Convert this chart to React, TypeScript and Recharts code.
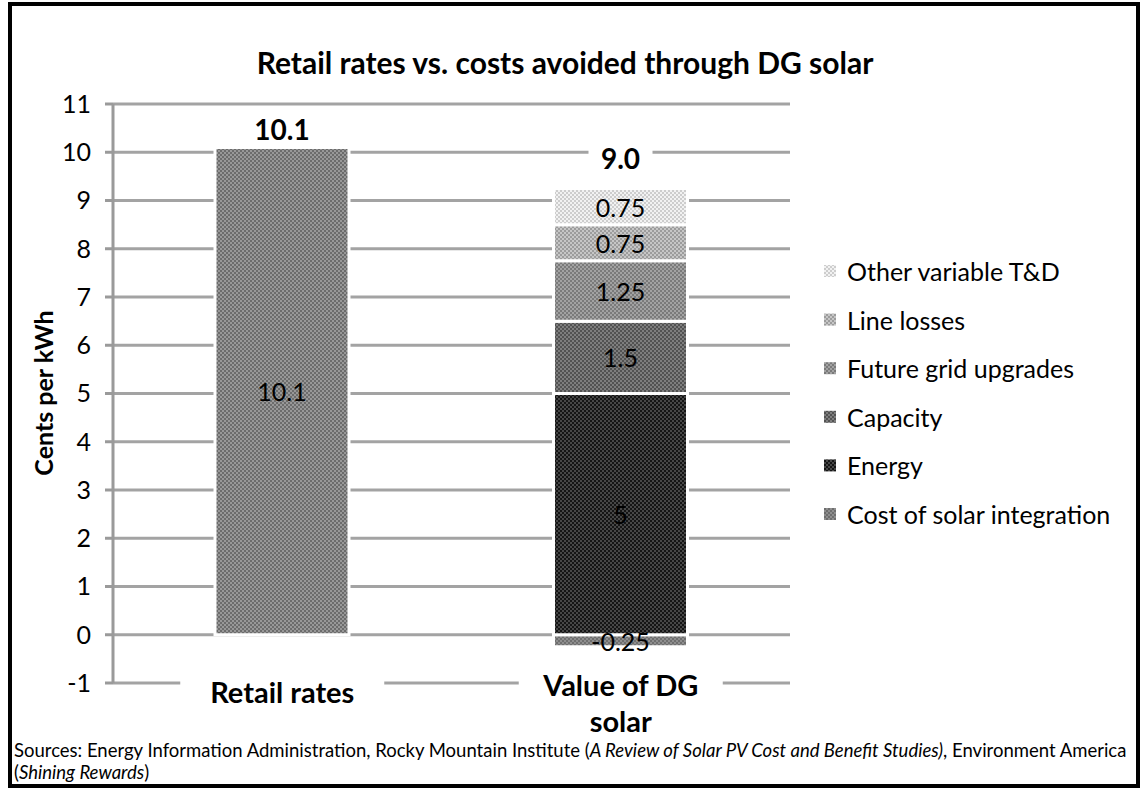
import React from 'react'
import { Bar, BarChart, CartesianGrid, LabelList, XAxis, YAxis } from 'recharts'

// categories + stacked series (cents per kWh)
const categories = ['Retail rates', 'Value of DG solar']
const retailRates = [10.1, null]
const solarIntegration = [null, -0.25]
const energy = [null, 5]
const capacity = [null, 1.5]
const gridUpgrades = [null, 1.25]
const lineLosses = [null, 0.75]
const otherTD = [null, 0.75]
const totalLabels = ['10.1', '9.0']
const yTicks = [-1, 0, 1, 2, 3, 4, 5, 6, 7, 8, 9, 10, 11]

const FONT = 'Lato, "Open Sans", sans-serif'

type Series = { key: string; name: string; values: (number | null)[]; fill: string }

const series: Series[] = [
    { key: 'retail', name: 'Retail rates', values: retailRates, fill: 'url(#pRetail)' },
    { key: 'integration', name: 'Cost of solar integration', values: solarIntegration, fill: 'url(#pIntegration)' },
    { key: 'energy', name: 'Energy', values: energy, fill: 'url(#pEnergy)' },
    { key: 'capacity', name: 'Capacity', values: capacity, fill: 'url(#pCapacity)' },
    { key: 'grid', name: 'Future grid upgrades', values: gridUpgrades, fill: 'url(#pGrid)' },
    { key: 'losses', name: 'Line losses', values: lineLosses, fill: 'url(#pLosses)' },
    { key: 'other', name: 'Other variable T&D', values: otherTD, fill: 'url(#pOther)' },
]

const legendOrder = ['other', 'losses', 'grid', 'capacity', 'energy', 'integration']

const data = categories.map((name, i) => {
    const row: any = { name }
    series.forEach(s => { row[s.key] = s.values[i] })
    row.retailTotal = retailRates[i] != null ? totalLabels[i] : null
    row.solarTotal = otherTD[i] != null ? totalLabels[i] : null
    return row
})

const checker = (id: string, a: string, b: string) => (
    <pattern id={id} width="4" height="4" patternUnits="userSpaceOnUse">
        <rect width="4" height="4" fill={a} />
        <rect width="2" height="2" fill={b} />
        <rect x="2" y="2" width="2" height="2" fill={b} />
    </pattern>
)

const Patterns = () => (
    <svg width="0" height="0" style={{ position: 'absolute' }}>
        <defs>
            {checker('pRetail', '#6c6c6c', '#989898')}
            {checker('pIntegration', '#6e6e6e', '#8e8e8e')}
            {checker('pEnergy', '#151515', '#474747')}
            {checker('pCapacity', '#525252', '#7e7e7e')}
            {checker('pGrid', '#7a7a7a', '#a2a2a2')}
            {checker('pLosses', '#9c9c9c', '#c6c6c6')}
            {checker('pOther', '#cdcdcd', '#f2f2f2')}
        </defs>
    </svg>
)

const InsideLabel = (props: any) => {
    const { x, y, width, height, value } = props
    if (value == null || !height) return null
    return (
        <text x={x + width / 2} y={y + height / 2} textAnchor="middle" dominantBaseline="central"
            fontFamily={FONT} fontSize={25} fill="#000">{value}</text>
    )
}

const totalLabel = (dy: number) => (props: any) => {
    const { x, y, width, height, value } = props
    if (value == null) return null
    const top = Math.min(y, y + height)
    const cx = x + width / 2
    return (
        <g>
            <rect x={cx - 32} y={top + dy - 15} width={64} height={30} fill="#fff" />
            <text x={cx} y={top + dy} textAnchor="middle" dominantBaseline="central"
                fontFamily={FONT} fontSize={28} fontWeight={700} fill="#000">{value}</text>
        </g>
    )
}

const CategoryTick = ({ x, y, payload }: any) => {
    const lines = payload.value === 'Value of DG solar' ? ['Value of DG', 'solar'] : [payload.value]
    return (
        <g>
            <rect x={x - 102} y={y - 14} width={204} height={lines.length * 38 + 10} fill="#fff" />
            {lines.map((l, i) => (
                <text key={l} x={x} y={y + (lines.length > 1 ? 13 : 20) + i * 36} textAnchor="middle"
                    fontFamily={FONT} fontSize={29} fontWeight={700} fill="#000">{l}</text>
            ))}
        </g>
    )
}

export default function App() {
    return (
        <div style={{ position: 'relative', width: 1144, height: 790, background: '#fff', fontFamily: FONT }}>
            <style>{'body{margin:0}'}</style>
            <Patterns />
            <div style={{ position: 'absolute', left: 8, top: 2, width: 1132, height: 786, border: '4px solid #000', boxSizing: 'border-box' }} />
            <div style={{ position: 'absolute', left: 0, width: 1130, top: 42, textAlign: 'center', fontSize: 30, fontWeight: 700, lineHeight: '40px' }}>
                Retail rates vs. costs avoided through DG solar
            </div>
            <div style={{ position: 'absolute', left: 43, top: 393, transform: 'translate(-50%, -50%) rotate(-90deg)', whiteSpace: 'nowrap', fontSize: 25, fontWeight: 700 }}>
                Cents per kWh
            </div>

            <div style={{ position: 'absolute', left: 0, top: 0 }}>
                <BarChart width={800} height={790} data={data} stackOffset="sign"
                    margin={{ top: 104, right: 10, left: 53, bottom: 7 }}>
                    <CartesianGrid vertical={false} stroke="#a3a3a3" strokeWidth={3} />
                    <XAxis dataKey="name" axisLine={false} tickLine={false} tickSize={0} tickMargin={0}
                        height={100} interval={0} tick={<CategoryTick />} />
                    <YAxis domain={[-1, 11]} ticks={yTicks} interval={0} width={60}
                        axisLine={{ stroke: '#9a9a9a', strokeWidth: 3 }}
                        tickLine={{ stroke: '#9a9a9a', strokeWidth: 3 }}
                        tickSize={8} tickMargin={14}
                        tick={{ fill: '#000', fontSize: 25, fontFamily: FONT }} />
                    {series.map(s => (
                        <Bar key={s.key} dataKey={s.key} name={s.name} stackId="s" barSize={134}
                            fill={s.fill} stroke="#fff" strokeWidth={3} isAnimationActive={false}>
                            <LabelList dataKey={s.key} content={<InsideLabel />} />
                            {s.key === 'retail' && <LabelList dataKey="retailTotal" content={totalLabel(-18)} />}
                            {s.key === 'other' && <LabelList dataKey="solarTotal" content={totalLabel(-30)} />}
                        </Bar>
                    ))}
                </BarChart>
            </div>

            <svg style={{ position: 'absolute', left: 810, top: 240 }} width={334} height={300}>
                {legendOrder.map((k, i) => {
                    const s = series.find(v => v.key === k)!
                    const cy = 31 + i * 48.6
                    return (
                        <g key={k}>
                            <rect x={14} y={cy - 6} width={12} height={12} fill={s.fill} />
                            <text x={37} y={cy} dominantBaseline="central" fontFamily={FONT} fontSize={25} fill="#000">{s.name}</text>
                        </g>
                    )
                })}
            </svg>

            <div style={{ position: 'absolute', left: 14, top: 739, fontSize: 18.5, lineHeight: '22px', color: '#000', whiteSpace: 'nowrap' }}>
                Sources: Energy Information Administration, Rocky Mountain Institute (<i>A Review of Solar PV Cost and Benefit Studies)</i>, Environment America
                <br />(<i>Shining Rewards</i>)
            </div>
        </div>
    )
}
